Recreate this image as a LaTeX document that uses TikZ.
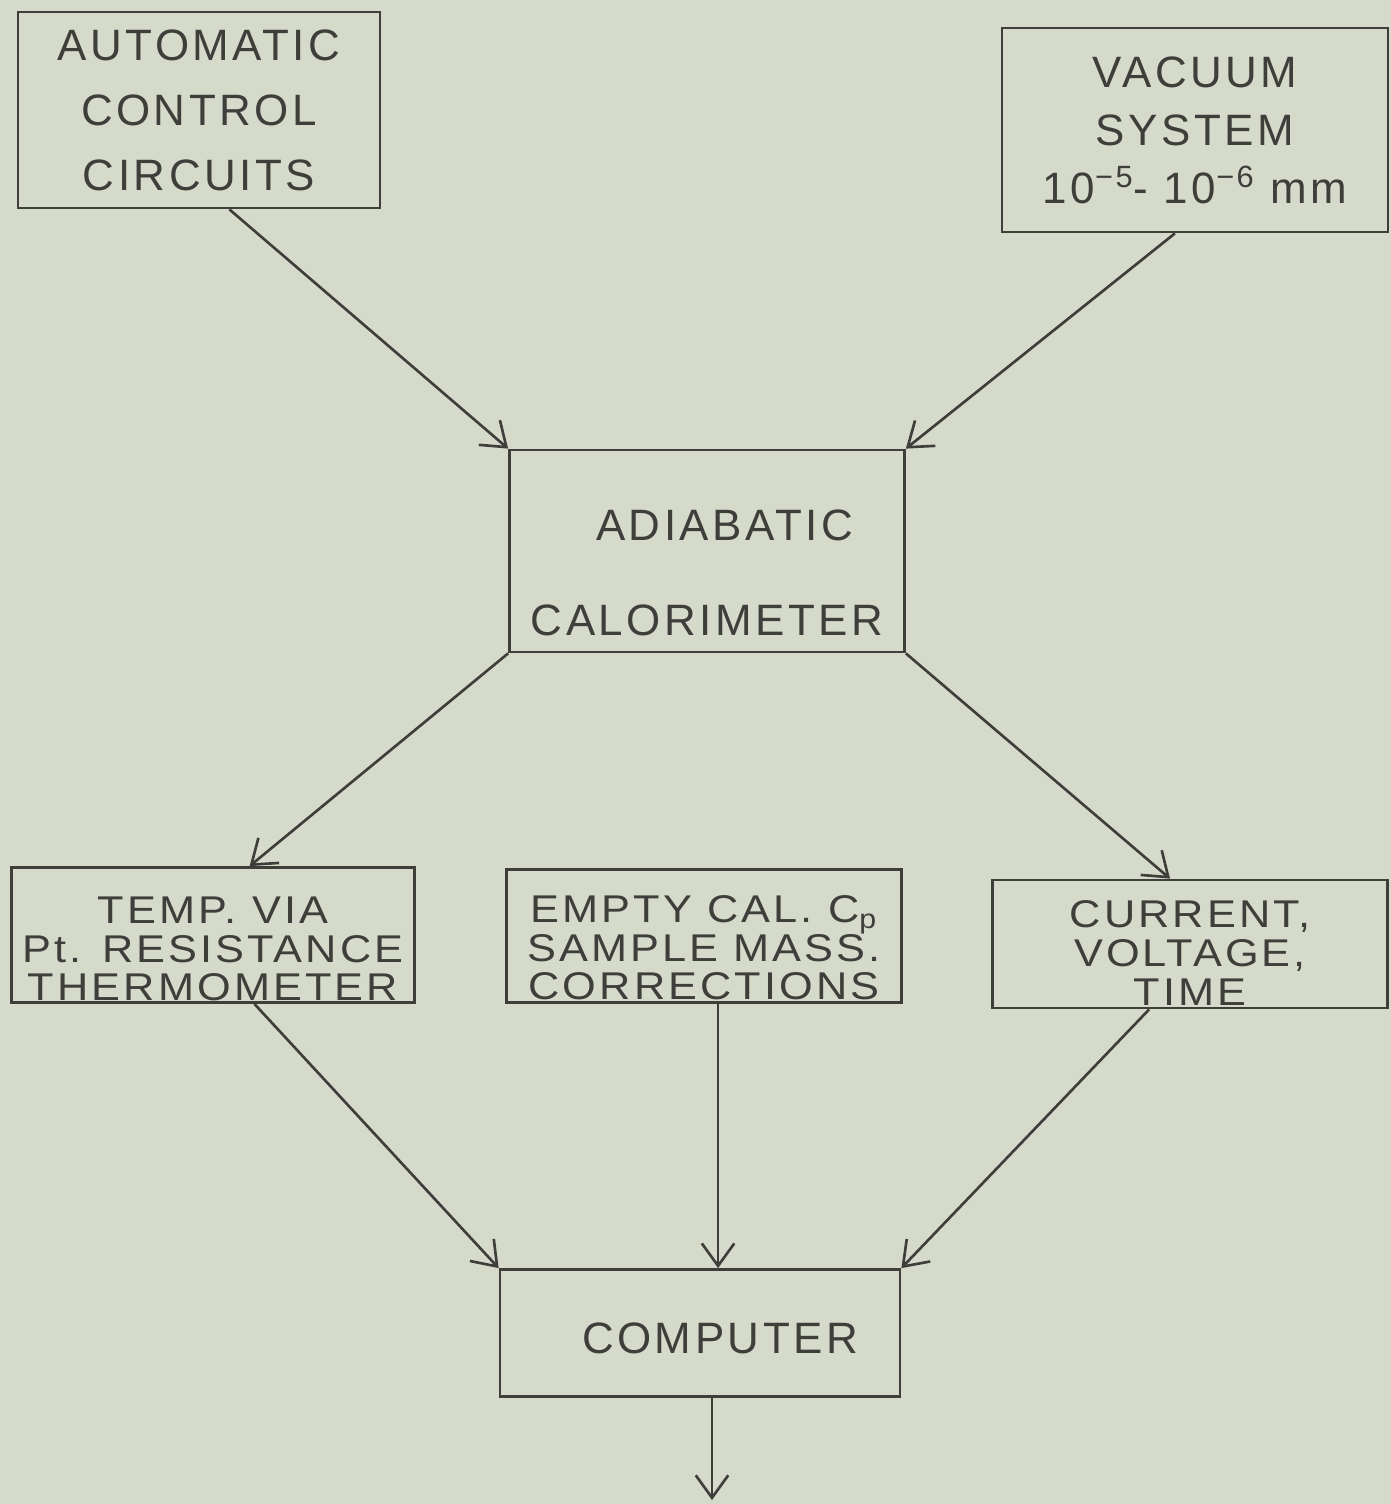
\documentclass[tikz,border=0pt]{standalone}
\usepackage{fontspec}
\setmainfont{Liberation Sans}[LetterSpace=8]
\usetikzlibrary{
arrows.meta,
}
\definecolor{paper}{RGB}{213,218,203}
\definecolor{ink}{RGB}{62,62,58}
\tikzset{
every node/.style={align=center, text=ink},
lines/.style={font=\fontsize{25}{#1}\selectfont},
tight/.style={font=\fontsize{22}{22}\selectfont\addfontfeatures{FakeStretch=1.12}},
block/.style={rectangle, draw=ink, line width=1.6pt, inner sep=0pt},
flow/.style={draw=ink, line width=1.5pt},
>={Straight Barb[length=0.45cm,width=0.65cm]},
}

\begin{document}
\begin{tikzpicture}[x=0.02cm, y=-0.02cm]
\fill[paper] (0,0) rectangle (1391,1504);
\useasboundingbox (0,0) rectangle (1391,1504);
% sources
\node (acc) [block, lines=37pt, minimum width=7.24cm, minimum height=3.92cm] at (199,110)
    {AUTOMATIC\\CONTROL\\CIRCUITS};
\node (vac) [block, lines=33pt, minimum width=7.72cm, minimum height=4.08cm] at (1195,130)
    {VACUUM\\SYSTEM\\10\textsuperscript{−5}- 10\textsuperscript{−6} mm};
\node (cal) [block, minimum width=7.9cm, minimum height=4.04cm,
    label={[lines=54pt, yshift=-0.44cm]center:{\hspace{0.8em}ADIABATIC\\CALORIMETER}}] at (707,551) {};
% measured quantities
\node (temp) [block, minimum width=8.06cm, minimum height=2.7cm,
    label={[tight, yshift=-0.28cm]center:{TEMP. VIA\\Pt. RESISTANCE\\THERMOMETER}}] at (213,935) {};
\node (empty) [block, minimum width=7.9cm, minimum height=2.66cm,
    label={[tight, yshift=-0.24cm]center:{EMPTY CAL. C\textsubscript{p}\\SAMPLE MASS.\\CORRECTIONS}}] at (704,936) {};
\node (cur) [block, minimum width=7.9cm, minimum height=2.56cm,
    label={[tight, yshift=-0.18cm]center:{CURRENT,\\VOLTAGE,\\TIME}}] at (1190,944) {};
\node (comp) [block, minimum width=8cm, minimum height=2.54cm,
    label={[lines=30pt, xshift=0.4cm, yshift=-0.1cm]center:{COMPUTER}}] at (700,1333) {};
\coordinate (out) at (712,1500);
% connectors
\draw[flow, ->] (acc.-73) -- (cal.north west);
\draw[flow, ->] (vac.-101) -- (cal.north east);
\draw[flow, ->] (cal.south west) -- (temp.62);
\draw[flow, ->] (cal.south east) -- (cur.107);
\draw[flow, ->] (temp.-59) -- (comp.north west);
\draw[flow, ->] ([xshift=8]empty.south) -- ([xshift=8]empty.south |- comp.north);
\draw[flow, ->] (cur.-122) -- (comp.north east);
\draw[flow, ->] (comp.south -| out) -- (out);
\end{tikzpicture}
\end{document}
